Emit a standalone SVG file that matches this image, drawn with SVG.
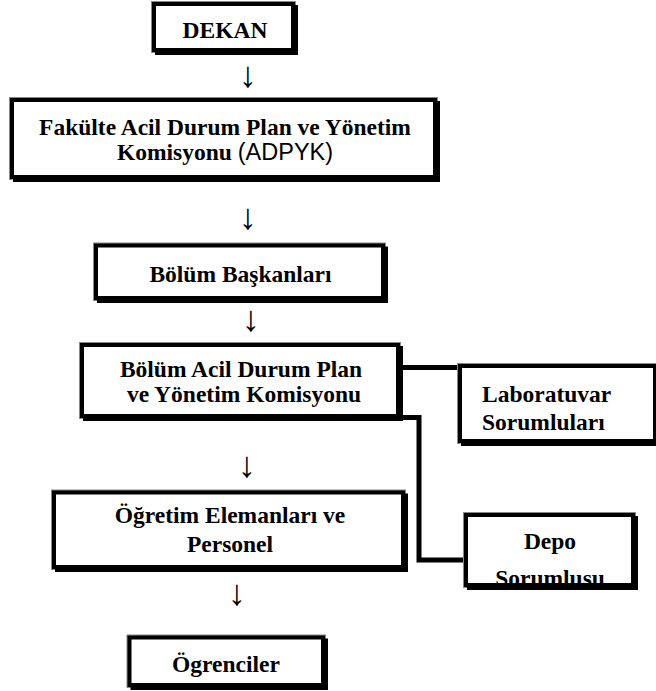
<svg xmlns="http://www.w3.org/2000/svg" width="656" height="691" viewBox="0 0 656 691">
<style>
.sh{fill:#000}
.bx{fill:#fff;stroke:#000;stroke-width:4}
.halo{fill:none;stroke:#888;stroke-width:6}
.bf{fill:none;stroke:#000;stroke-width:4}
.t{font-family:"Liberation Serif","Times New Roman",serif;font-weight:bold;font-size:23.5px;fill:#000;text-anchor:middle}
.tl{text-anchor:start}
.s{font-family:"Liberation Sans",Arial,sans-serif;font-weight:normal}
.ar{font-family:"Liberation Serif","DejaVu Serif",serif;font-size:36px;fill:#000;text-anchor:middle}
.cn{fill:none;stroke:#000;stroke-width:5}
</style>
<rect width="656" height="691" fill="#fff"/>
<g id="connectors">
<path class="cn" d="M398 367.5 H460"/>
<path class="cn" d="M396 417.5 H419 V560 H466"/>
<text class="ar" x="248" y="87">↓</text>
<text class="ar" x="248" y="229">↓</text>
<text class="ar" x="251" y="331">↓</text>
<text class="ar" x="247" y="477">↓</text>
<text class="ar" x="237" y="605">↓</text>
</g>
<g id="dekan">
<rect class="halo" x="154" y="4" width="139" height="46"/>
<rect class="sh" x="155" y="5" width="143" height="50"/>
<rect class="bx" x="154" y="4" width="139" height="46"/>
<text class="t" x="225" y="38">DEKAN</text>
</g>
<g id="fakulte">
<rect class="halo" x="12" y="100" width="423" height="77"/>
<rect class="sh" x="13" y="101" width="427" height="81"/>
<rect class="bx" x="12" y="100" width="423" height="77"/>
<text class="t" x="225" y="135">Fakülte Acil Durum Plan ve Yönetim</text>
<text class="t" x="225" y="160">Komisyonu <tspan class="s">(ADPYK)</tspan></text>
</g>
<g id="bolum-baskanlari">
<rect class="halo" x="96" y="245.5" width="287" height="52.5"/>
<rect class="sh" x="97" y="246.5" width="291" height="56.5"/>
<rect class="bx" x="96" y="245.5" width="287" height="52.5"/>
<text class="t" x="240.5" y="282">Bölüm Başkanları</text>
</g>
<g id="bolum-acil">
<rect class="halo" x="82" y="345" width="316" height="71"/>
<rect class="sh" x="83" y="346" width="320" height="75"/>
<rect class="bx" x="82" y="345" width="316" height="71"/>
<text class="t" x="241" y="377">Bölüm Acil Durum Plan</text>
<text class="t" x="244" y="402">ve Yönetim Komisyonu</text>
</g>
<g id="laboratuvar">
<rect class="halo" x="460" y="366" width="195" height="75"/>
<rect class="sh" x="461" y="367" width="199" height="79"/>
<rect class="bx" x="460" y="366" width="195" height="75"/>
<text class="t tl" x="482" y="402">Laboratuvar</text>
<text class="t tl" x="482" y="430">Sorumluları</text>
</g>
<g id="ogretim">
<rect class="halo" x="54" y="492.5" width="349" height="74.5"/>
<rect class="sh" x="55" y="493.5" width="353" height="78.5"/>
<rect class="bx" x="54" y="492.5" width="349" height="74.5"/>
<text class="t" x="230" y="523">Öğretim Elemanları ve</text>
<text class="t" x="230" y="552">Personel</text>
</g>
<g id="depo">
<rect class="halo" x="466" y="515" width="167" height="70"/>
<rect class="sh" x="467" y="516" width="171" height="74"/>
<rect class="bx" x="466" y="515" width="167" height="70"/>
<text class="t" x="550" y="549">Depo</text>
<text class="t" x="550" y="586">Sorumlusu</text>
<rect class="bf" x="466" y="515" width="167" height="70"/>
</g>
<g id="ogrenciler">
<rect class="halo" x="129.5" y="637.5" width="193.5" height="47.5"/>
<rect class="sh" x="130.5" y="638.5" width="197.5" height="51.5"/>
<rect class="bx" x="129.5" y="637.5" width="193.5" height="47.5"/>
<text class="t" x="226" y="672">Ögrenciler</text>
</g>
</svg>
